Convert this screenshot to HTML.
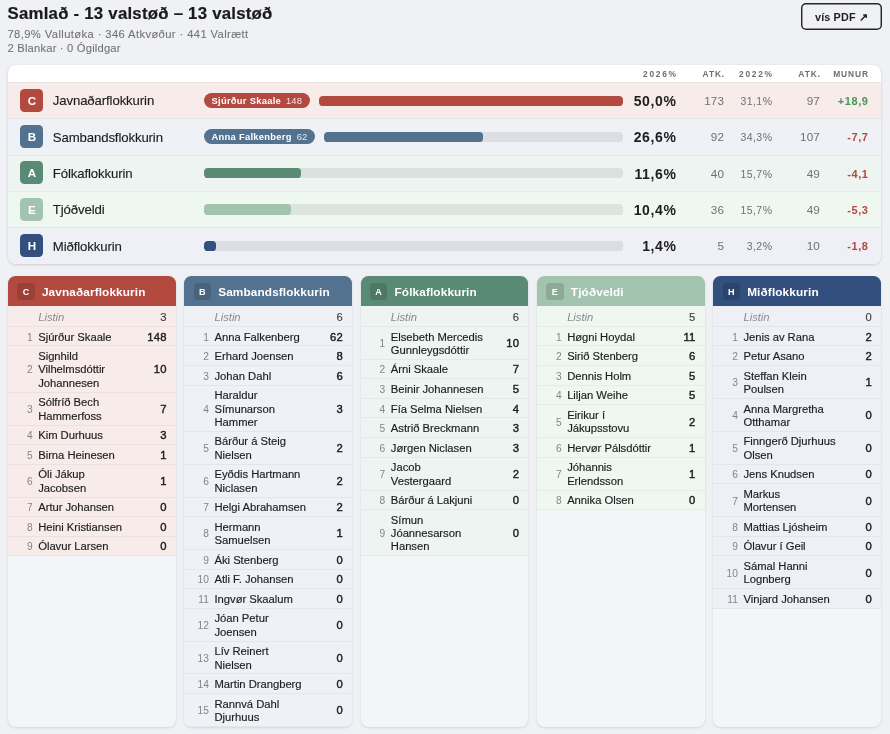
<!DOCTYPE html>
<html lang="fo">
<head>
<meta charset="utf-8">
<title>Samlað - 13 valstøð</title>
<style>
*{box-sizing:border-box;margin:0;padding:0}
html,body{width:890px;height:734px;overflow:hidden}
body{background:#f0f1f5;font-family:"Liberation Sans",Arial,sans-serif;color:#1d1d1f}
.page{position:relative;width:890px;height:734px}
.top{position:absolute;left:7.5px;top:0;width:874px;height:60px}
h1{position:absolute;left:0;top:3px;font-size:16.8px;line-height:22px;font-weight:700;white-space:nowrap;letter-spacing:0.24px;color:#1a1a1c;-webkit-text-stroke:0.2px #1a1a1c}
.sub{position:absolute;left:0;top:26.5px;font-size:11.2px;line-height:14px;color:#737378;white-space:nowrap;letter-spacing:0.4px;-webkit-text-stroke:0.1px #737378}
.sub.s2{top:40.5px;letter-spacing:0.2px}
.pdf{position:absolute;right:-0.5px;top:2.5px;width:81px;height:27.5px;box-shadow:inset 0 0 0 1.45px #26262c;border-radius:5px;font-size:10.8px;font-weight:700;line-height:28.8px;text-align:center;color:#1d1d1f;letter-spacing:0.15px}
.sum{position:absolute;left:8px;top:65px;width:873px;height:198.6px;background:#fff;border-radius:8px;overflow:hidden;box-shadow:0 1px 3px rgba(0,0,0,.14),0 0 1px rgba(0,0,0,.10)}
.shead{position:relative;height:17.1px;font-size:8.4px;font-weight:700;letter-spacing:0.9px;color:#6d6d73;line-height:17px}
.shead span{position:absolute;top:0.8px;text-align:right;margin-right:-0.9px}
.shead .c1,.shead .c3{letter-spacing:1.7px;margin-right:-1.7px}
.c1{right:205px}.c2{right:156.8px}.c3{right:109px}.c4{right:61px}.c5{right:13px}
.srow{position:relative;height:36.3px;display:flex;align-items:center;padding-left:12.4px;padding-right:258px;padding-bottom:1px;border-top:1px solid rgba(0,0,0,.04)}
.srow .c1,.srow .c2,.srow .c3,.srow .c4,.srow .c5{position:absolute;top:0px;line-height:36.3px;text-align:right;white-space:nowrap}
.bd{flex:none;width:23px;height:23px;border-radius:4.5px;color:#fff;font-weight:700;font-size:11.6px;line-height:23.6px;text-align:center}
.pn{flex:none;width:160.4px;padding-left:9.4px;position:relative;top:0.6px;font-size:13.2px;white-space:nowrap;color:#1d1d1f;letter-spacing:-0.12px;-webkit-text-stroke:0.14px #1d1d1f}
.pill{flex:none;height:15px;border-radius:8px;color:#fff;font-size:9.4px;line-height:15px;padding:0 7.7px;margin-right:9px;white-space:nowrap}
.pill b{font-weight:700;letter-spacing:0.28px}
.pill i{font-style:normal;opacity:.85;margin-left:5px;letter-spacing:0.1px}
.trk{flex:1;height:10.2px;border-radius:3.6px;background:rgba(20,20,30,.085);overflow:hidden;display:block;position:relative;top:0.4px}
.fill{display:block;height:100%;border-radius:3.6px}
.v1{font-size:14px;font-weight:700;color:#1d1d1f;letter-spacing:0.65px;margin-right:-0.65px}
.v2{font-size:11.7px;color:#6f6f75;letter-spacing:0.17px}
.v3{font-size:10.5px;color:#6f6f75;letter-spacing:0.44px;margin-right:-0.44px}
.pos{font-size:11px;font-weight:700;color:#3f9a55;letter-spacing:0.6px;margin-right:-0.6px}
.neg{font-size:11px;font-weight:700;color:#b5483f;letter-spacing:0.6px;margin-right:-0.6px}
.grid{position:absolute;left:8px;top:276px;width:873px;display:grid;grid-template-columns:repeat(5,1fr);column-gap:8.6px}
.card{background:#f4f5f8;border-radius:7.5px;overflow:hidden;box-shadow:0 1px 2.5px rgba(0,0,0,.11),0 0 1px rgba(0,0,0,.07)}
.ch{height:30.4px;display:flex;align-items:center;padding-left:9px;color:#fff}
.cb{flex:none;width:17.3px;height:17.2px;margin-left:0.3px;position:relative;top:0.3px;border-radius:3.5px;background:rgba(0,0,0,.13);font-size:9.1px;font-weight:700;line-height:18.8px;text-align:center}
.ct{font-size:11.8px;font-weight:700;margin-left:7.3px;position:relative;top:0.8px;white-space:nowrap;letter-spacing:0.12px}
.r{display:flex;align-items:center;padding:3.7px 0 1.6px;font-size:11.25px;line-height:13.3px;border-bottom:1px solid rgba(0,0,0,.045)}
.r.l0{padding:4.2px 0 2px}
.n{flex:none;width:24.6px;text-align:right;color:#84848a;font-size:10.2px}
.nm{flex:1;padding-left:5.6px;white-space:nowrap;color:#1d1d1f;letter-spacing:-0.03px;-webkit-text-stroke:0.16px #1d1d1f}
.li{font-style:italic;color:#8a8a8f;-webkit-text-stroke:0}
.v{flex:none;padding-right:9.3px;text-align:right;font-weight:400;color:#1d1d1f;-webkit-text-stroke:0.42px #1d1d1f;letter-spacing:0.25px;margin-right:-0.25px}
.lv{font-weight:400;color:#3a3a3e;-webkit-text-stroke:0.12px #3a3a3e}
</style>
</head>
<body>
<div class="page">
<div class="top"><div class="hd"><h1>Samlað - 13 valstøð – 13 valstøð</h1>
<div class="sub">78,9% Vallutøka · 346 Atkvøður · 441 Valrætt</div>
<div class="sub s2">2 Blankar · 0 Ógildgar</div></div>
<a class="pdf">vís PDF ↗</a></div>
<div class="sum">
<div class="shead"><span class="c1">2026%</span><span class="c2">ATK.</span><span class="c3">2022%</span><span class="c4">ATK.</span><span class="c5">MUNUR</span></div>
<div class="srow" style="background:#f8eceb"><span class="bd" style="background:#b24a40">C</span><span class="pn">Javnaðarflokkurin</span><span class="pill" style="background:#b24a40"><b>Sjúrður Skaale</b><i>148</i></span><span class="trk"><span class="fill" style="width:100.0%;background:#b24a40"></span></span><span class="c1 v1">50,0%</span><span class="c2 v2">173</span><span class="c3 v3">31,1%</span><span class="c4 v2">97</span><span class="c5 pos">+18,9</span></div>
<div class="srow" style="background:#eef2f6"><span class="bd" style="background:#53728f">B</span><span class="pn">Sambandsflokkurin</span><span class="pill" style="background:#53728f"><b>Anna Falkenberg</b><i>62</i></span><span class="trk"><span class="fill" style="width:53.2%;background:#53728f"></span></span><span class="c1 v1">26,6%</span><span class="c2 v2">92</span><span class="c3 v3">34,3%</span><span class="c4 v2">107</span><span class="c5 neg">-7,7</span></div>
<div class="srow" style="background:#edf4f1"><span class="bd" style="background:#598a75">A</span><span class="pn">Fólkaflokkurin</span><span class="trk"><span class="fill" style="width:23.2%;background:#598a75"></span></span><span class="c1 v1">11,6%</span><span class="c2 v2">40</span><span class="c3 v3">15,7%</span><span class="c4 v2">49</span><span class="c5 neg">-4,1</span></div>
<div class="srow" style="background:#eef8f1"><span class="bd" style="background:#a2c3ae">E</span><span class="pn">Tjóðveldi</span><span class="trk"><span class="fill" style="width:20.8%;background:#a2c3ae"></span></span><span class="c1 v1">10,4%</span><span class="c2 v2">36</span><span class="c3 v3">15,7%</span><span class="c4 v2">49</span><span class="c5 neg">-5,3</span></div>
<div class="srow" style="background:#eef0f6"><span class="bd" style="background:#334f7e">H</span><span class="pn">Miðflokkurin</span><span class="trk"><span class="fill" style="width:2.8%;background:#334f7e"></span></span><span class="c1 v1">1,4%</span><span class="c2 v2">5</span><span class="c3 v3">3,2%</span><span class="c4 v2">10</span><span class="c5 neg">-1,8</span></div>
</div>
<div class="grid">
<div class="card kC"><div class="ch" style="background:#b24a40"><span class="cb">C</span><span class="ct">Javnaðarflokkurin</span></div>
<div class="r l0" style="background:#f8eceb"><span class="n"></span><span class="nm li">Listin</span><span class="v lv">3</span></div>
<div class="r" style="background:#f8eceb"><span class="n">1</span><span class="nm">Sjúrður Skaale</span><span class="v">148</span></div>
<div class="r" style="background:#f8eceb"><span class="n">2</span><span class="nm">Signhild<br>Vilhelmsdóttir<br>Johannesen</span><span class="v">10</span></div>
<div class="r" style="background:#f8eceb"><span class="n">3</span><span class="nm">Sólfríð Bech<br>Hammerfoss</span><span class="v">7</span></div>
<div class="r" style="background:#f8eceb"><span class="n">4</span><span class="nm">Kim Durhuus</span><span class="v">3</span></div>
<div class="r" style="background:#f8eceb"><span class="n">5</span><span class="nm">Birna Heinesen</span><span class="v">1</span></div>
<div class="r" style="background:#f8eceb"><span class="n">6</span><span class="nm">Óli Jákup<br>Jacobsen</span><span class="v">1</span></div>
<div class="r" style="background:#f8eceb"><span class="n">7</span><span class="nm">Artur Johansen</span><span class="v">0</span></div>
<div class="r" style="background:#f8eceb"><span class="n">8</span><span class="nm">Heini Kristiansen</span><span class="v">0</span></div>
<div class="r" style="background:#f8eceb"><span class="n">9</span><span class="nm">Ólavur Larsen</span><span class="v">0</span></div>
</div>
<div class="card kB"><div class="ch" style="background:#53728f"><span class="cb">B</span><span class="ct">Sambandsflokkurin</span></div>
<div class="r l0" style="background:#eef2f6"><span class="n"></span><span class="nm li">Listin</span><span class="v lv">6</span></div>
<div class="r" style="background:#eef2f6"><span class="n">1</span><span class="nm">Anna Falkenberg</span><span class="v">62</span></div>
<div class="r" style="background:#eef2f6"><span class="n">2</span><span class="nm">Erhard Joensen</span><span class="v">8</span></div>
<div class="r" style="background:#eef2f6"><span class="n">3</span><span class="nm">Johan Dahl</span><span class="v">6</span></div>
<div class="r" style="background:#eef2f6"><span class="n">4</span><span class="nm">Haraldur<br>Símunarson<br>Hammer</span><span class="v">3</span></div>
<div class="r" style="background:#eef2f6"><span class="n">5</span><span class="nm">Bárður á Steig<br>Nielsen</span><span class="v">2</span></div>
<div class="r" style="background:#eef2f6"><span class="n">6</span><span class="nm">Eyðdis Hartmann<br>Niclasen</span><span class="v">2</span></div>
<div class="r" style="background:#eef2f6"><span class="n">7</span><span class="nm">Helgi Abrahamsen</span><span class="v">2</span></div>
<div class="r" style="background:#eef2f6"><span class="n">8</span><span class="nm">Hermann<br>Samuelsen</span><span class="v">1</span></div>
<div class="r" style="background:#eef2f6"><span class="n">9</span><span class="nm">Áki Stenberg</span><span class="v">0</span></div>
<div class="r" style="background:#eef2f6"><span class="n">10</span><span class="nm">Atli F. Johansen</span><span class="v">0</span></div>
<div class="r" style="background:#eef2f6"><span class="n">11</span><span class="nm">Ingvør Skaalum</span><span class="v">0</span></div>
<div class="r" style="background:#eef2f6"><span class="n">12</span><span class="nm">Jóan Petur<br>Joensen</span><span class="v">0</span></div>
<div class="r" style="background:#eef2f6"><span class="n">13</span><span class="nm">Lív Reinert<br>Nielsen</span><span class="v">0</span></div>
<div class="r" style="background:#eef2f6"><span class="n">14</span><span class="nm">Martin Drangberg</span><span class="v">0</span></div>
<div class="r" style="background:#eef2f6"><span class="n">15</span><span class="nm">Rannvá Dahl<br>Djurhuus</span><span class="v">0</span></div>
</div>
<div class="card kA"><div class="ch" style="background:#598a75"><span class="cb">A</span><span class="ct">Fólkaflokkurin</span></div>
<div class="r l0" style="background:#edf4f1"><span class="n"></span><span class="nm li">Listin</span><span class="v lv">6</span></div>
<div class="r" style="background:#edf4f1"><span class="n">1</span><span class="nm">Elsebeth Mercedis<br>Gunnleygsdóttir</span><span class="v">10</span></div>
<div class="r" style="background:#edf4f1"><span class="n">2</span><span class="nm">Árni Skaale</span><span class="v">7</span></div>
<div class="r" style="background:#edf4f1"><span class="n">3</span><span class="nm">Beinir Johannesen</span><span class="v">5</span></div>
<div class="r" style="background:#edf4f1"><span class="n">4</span><span class="nm">Fía Selma Nielsen</span><span class="v">4</span></div>
<div class="r" style="background:#edf4f1"><span class="n">5</span><span class="nm">Astrið Breckmann</span><span class="v">3</span></div>
<div class="r" style="background:#edf4f1"><span class="n">6</span><span class="nm">Jørgen Niclasen</span><span class="v">3</span></div>
<div class="r" style="background:#edf4f1"><span class="n">7</span><span class="nm">Jacob<br>Vestergaard</span><span class="v">2</span></div>
<div class="r" style="background:#edf4f1"><span class="n">8</span><span class="nm">Bárður á Lakjuni</span><span class="v">0</span></div>
<div class="r" style="background:#edf4f1"><span class="n">9</span><span class="nm">Símun<br>Jóannesarson<br>Hansen</span><span class="v">0</span></div>
</div>
<div class="card kE"><div class="ch" style="background:#a2c3ae"><span class="cb">E</span><span class="ct">Tjóðveldi</span></div>
<div class="r l0" style="background:#eef8f1"><span class="n"></span><span class="nm li">Listin</span><span class="v lv">5</span></div>
<div class="r" style="background:#eef8f1"><span class="n">1</span><span class="nm">Høgni Hoydal</span><span class="v">11</span></div>
<div class="r" style="background:#eef8f1"><span class="n">2</span><span class="nm">Sirið Stenberg</span><span class="v">6</span></div>
<div class="r" style="background:#eef8f1"><span class="n">3</span><span class="nm">Dennis Holm</span><span class="v">5</span></div>
<div class="r" style="background:#eef8f1"><span class="n">4</span><span class="nm">Liljan Weihe</span><span class="v">5</span></div>
<div class="r" style="background:#eef8f1"><span class="n">5</span><span class="nm">Eirikur í<br>Jákupsstovu</span><span class="v">2</span></div>
<div class="r" style="background:#eef8f1"><span class="n">6</span><span class="nm">Hervør Pálsdóttir</span><span class="v">1</span></div>
<div class="r" style="background:#eef8f1"><span class="n">7</span><span class="nm">Jóhannis<br>Erlendsson</span><span class="v">1</span></div>
<div class="r" style="background:#eef8f1"><span class="n">8</span><span class="nm">Annika Olsen</span><span class="v">0</span></div>
</div>
<div class="card kH"><div class="ch" style="background:#334f7e"><span class="cb">H</span><span class="ct">Miðflokkurin</span></div>
<div class="r l0" style="background:#eef0f6"><span class="n"></span><span class="nm li">Listin</span><span class="v lv">0</span></div>
<div class="r" style="background:#eef0f6"><span class="n">1</span><span class="nm">Jenis av Rana</span><span class="v">2</span></div>
<div class="r" style="background:#eef0f6"><span class="n">2</span><span class="nm">Petur Asano</span><span class="v">2</span></div>
<div class="r" style="background:#eef0f6"><span class="n">3</span><span class="nm">Steffan Klein<br>Poulsen</span><span class="v">1</span></div>
<div class="r" style="background:#eef0f6"><span class="n">4</span><span class="nm">Anna Margretha<br>Otthamar</span><span class="v">0</span></div>
<div class="r" style="background:#eef0f6"><span class="n">5</span><span class="nm">Finngerð Djurhuus<br>Olsen</span><span class="v">0</span></div>
<div class="r" style="background:#eef0f6"><span class="n">6</span><span class="nm">Jens Knudsen</span><span class="v">0</span></div>
<div class="r" style="background:#eef0f6"><span class="n">7</span><span class="nm">Markus<br>Mortensen</span><span class="v">0</span></div>
<div class="r" style="background:#eef0f6"><span class="n">8</span><span class="nm">Mattias Ljósheim</span><span class="v">0</span></div>
<div class="r" style="background:#eef0f6"><span class="n">9</span><span class="nm">Ólavur í Geil</span><span class="v">0</span></div>
<div class="r" style="background:#eef0f6"><span class="n">10</span><span class="nm">Sámal Hanni<br>Lognberg</span><span class="v">0</span></div>
<div class="r" style="background:#eef0f6"><span class="n">11</span><span class="nm">Vinjard Johansen</span><span class="v">0</span></div>
</div>
</div>
</div>
</body>
</html>
